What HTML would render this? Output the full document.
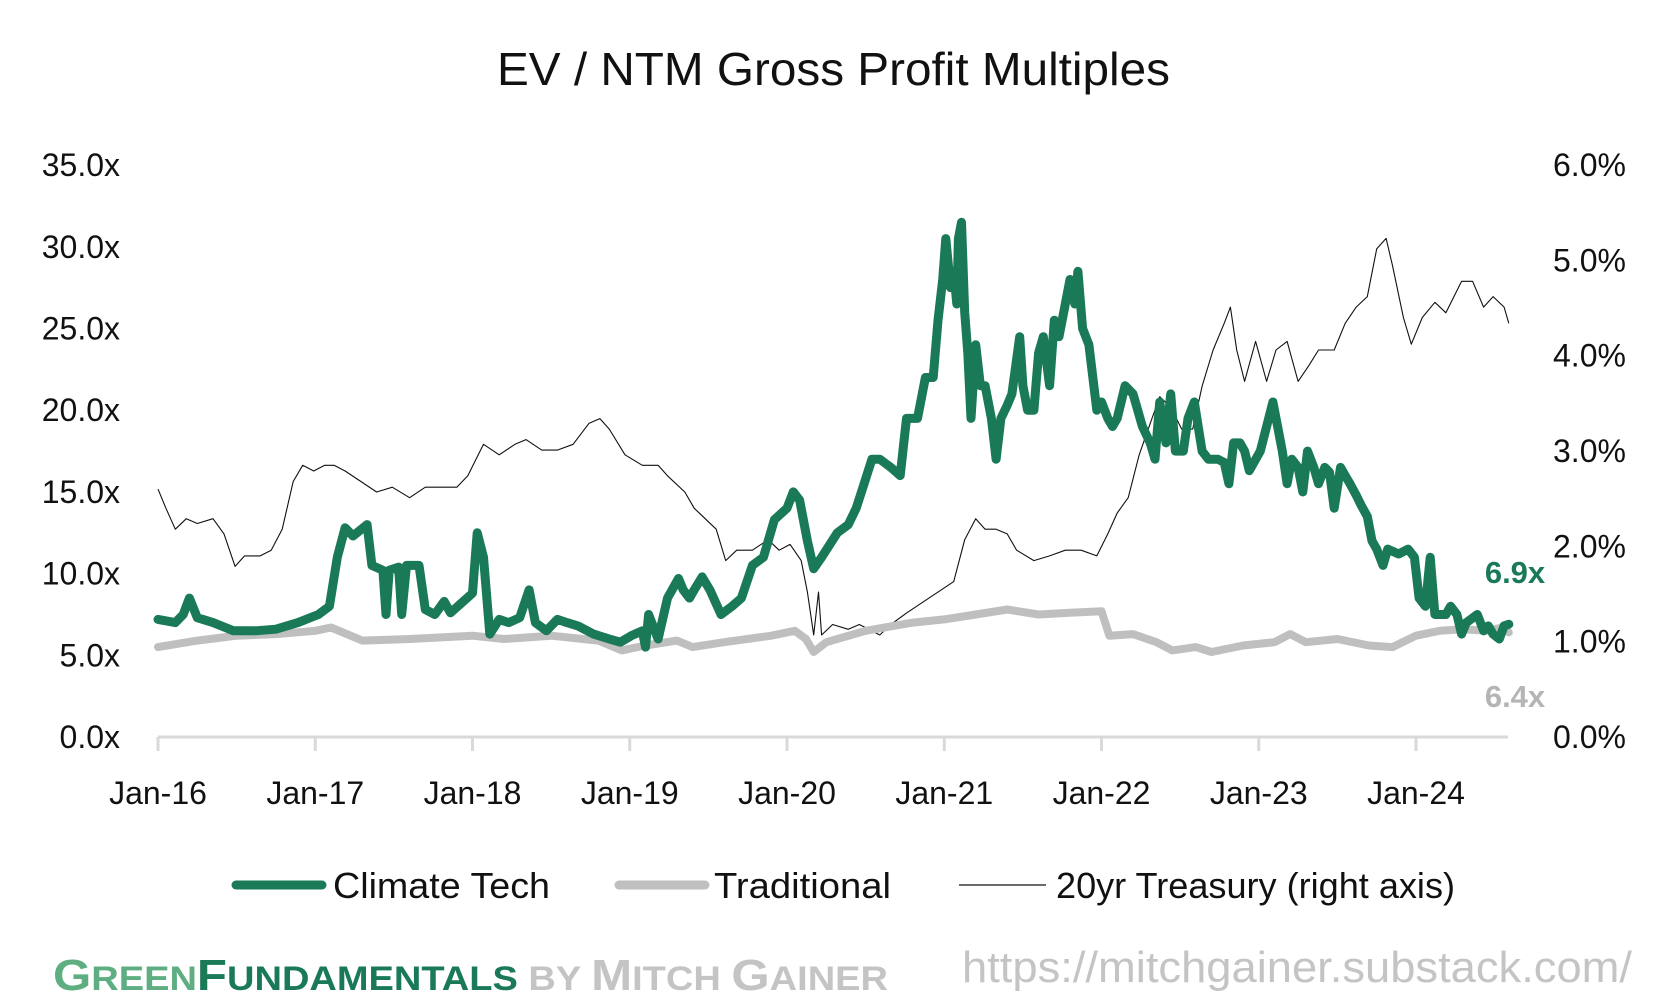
<!DOCTYPE html>
<html><head><meta charset="utf-8"><style>
html,body{margin:0;padding:0;background:#fff;}
svg{display:block;font-family:"Liberation Sans",sans-serif;}
</style></head><body>
<svg id="chart" width="1659" height="1004" viewBox="0 0 1659 1004">
<text x="497" y="85" textLength="673" lengthAdjust="spacingAndGlyphs" font-size="46" fill="#111">EV / NTM Gross Profit Multiples</text>
<g id="axes"></g>
<g id="series"></g>
<text x="1515" y="583" text-anchor="middle" font-size="31" font-weight="bold" fill="#1a7a57">6.9x</text>
<text x="1515" y="707" text-anchor="middle" font-size="31" font-weight="bold" fill="#b5b5b5">6.4x</text>
<g>
<g><line x1="236" y1="885" x2="322" y2="885" stroke="#1a7a57" stroke-width="9" stroke-linecap="round"/><text x="333" y="898" textLength="217" lengthAdjust="spacingAndGlyphs" font-size="36" fill="#111">Climate Tech</text></g>
<g><line x1="619" y1="885" x2="705" y2="885" stroke="#bfbfbf" stroke-width="9" stroke-linecap="round"/><text x="714" y="898" textLength="177" lengthAdjust="spacingAndGlyphs" font-size="36" fill="#111">Traditional</text></g>
<g><line x1="959" y1="885" x2="1046" y2="885" stroke="#111" stroke-width="1.2"/><text x="1056" y="898" textLength="399" lengthAdjust="spacingAndGlyphs" font-size="36" fill="#111">20yr Treasury (right axis)</text></g>
</g>
<text x="53" y="990" textLength="835" lengthAdjust="spacingAndGlyphs" font-size="44" font-weight="bold"><tspan fill="#5fae82">G</tspan><tspan fill="#5fae82" font-size="34">REEN</tspan><tspan fill="#1a7a57">F</tspan><tspan fill="#1a7a57" font-size="34">UNDAMENTALS</tspan><tspan fill="#c4c4c4" font-size="34"> BY </tspan><tspan fill="#c4c4c4">M</tspan><tspan fill="#c4c4c4" font-size="34">ITCH </tspan><tspan fill="#c4c4c4">G</tspan><tspan fill="#c4c4c4" font-size="34">AINER</tspan></text>
<text x="962" y="982" textLength="670" lengthAdjust="spacingAndGlyphs" font-size="44" fill="#c4c4c4">https://mitchgainer.substack.com/</text>
</svg>
<script>
// year offsets since Jan-16 and values
const climateT=[0,0.11,0.16,0.2,0.25,0.35,0.48,0.62,0.75,0.89,1.02,1.09,1.14,1.19,1.24,1.33,1.36,1.43,1.45,1.47,1.53,1.55,1.58,1.66,1.70,1.76,1.82,1.86,1.93,2.0,2.03,2.07,2.11,2.17,2.23,2.30,2.36,2.40,2.47,2.54,2.60,2.67,2.77,2.87,2.94,3.01,3.08,3.10,3.12,3.18,3.24,3.31,3.34,3.38,3.41,3.46,3.51,3.58,3.65,3.71,3.78,3.85,3.92,4.0,4.04,4.08,4.13,4.17,4.22,4.32,4.39,4.44,4.49,4.54,4.59,4.66,4.72,4.76,4.83,4.88,4.93,4.96,4.99,5.01,5.04,5.06,5.08,5.09,5.11,5.13,5.15,5.17,5.20,5.23,5.26,5.30,5.33,5.36,5.40,5.43,5.48,5.50,5.53,5.57,5.60,5.63,5.67,5.70,5.73,5.77,5.80,5.83,5.85,5.88,5.92,5.97,6.0,6.04,6.07,6.10,6.15,6.20,6.26,6.31,6.34,6.37,6.41,6.44,6.47,6.52,6.55,6.59,6.64,6.68,6.74,6.78,6.81,6.84,6.88,6.91,6.94,7.01,7.05,7.09,7.12,7.15,7.18,7.21,7.25,7.28,7.31,7.35,7.38,7.42,7.45,7.48,7.52,7.55,7.58,7.62,7.65,7.69,7.72,7.75,7.79,7.82,7.89,7.95,7.99,8.02,8.06,8.09,8.12,8.19,8.22,8.26,8.29,8.32,8.39,8.43,8.46,8.49,8.53,8.56,8.59];
const climateV=[7.2,7.0,7.5,8.5,7.3,7.0,6.5,6.5,6.6,7.0,7.5,8.0,11.0,12.8,12.3,13.0,10.5,10.2,7.5,10.2,10.4,7.5,10.5,10.5,7.8,7.5,8.3,7.6,8.2,8.8,12.5,11.0,6.3,7.2,7.0,7.3,9.0,7.0,6.5,7.2,7.0,6.8,6.3,6.0,5.8,6.2,6.5,5.5,7.5,6.0,8.5,9.7,9.0,8.5,9.0,9.8,9.0,7.5,8.0,8.5,10.5,11.0,13.3,14.0,15.0,14.5,12.0,10.3,11.0,12.5,13.0,14.0,15.5,17.0,17.0,16.5,16.0,19.5,19.5,22.0,22.0,25.5,28.0,30.5,27.5,28.5,26.5,30.5,31.5,26.0,23.5,19.5,24.0,21.5,21.5,19.5,17.0,19.5,20.3,21.0,24.5,21.5,20.0,20.0,23.5,24.5,21.5,25.5,24.5,26.5,28.0,26.5,28.5,25.0,24.0,20.0,20.5,19.5,19.0,19.5,21.5,21.0,19.0,18.0,17.0,20.5,18.0,21.0,17.5,17.5,19.5,20.5,17.5,17.0,17.0,16.8,15.5,18.0,18.0,17.5,16.3,17.5,19.0,20.5,19.0,17.5,15.5,17.0,16.5,15.0,17.5,16.5,15.5,16.5,16.2,14.0,16.5,16.0,15.5,14.8,14.2,13.5,12.0,11.5,10.5,11.5,11.2,11.5,11.0,8.5,8.0,11.0,7.5,7.5,8.0,7.5,6.3,7.0,7.5,6.5,6.8,6.3,6.0,6.8,6.9];
const tradT=[0,0.25,0.5,0.75,1.0,1.1,1.3,1.6,2.0,2.2,2.5,2.8,2.95,3.1,3.3,3.4,3.6,3.9,4.05,4.12,4.17,4.25,4.5,4.8,5.0,5.2,5.4,5.6,5.8,6.0,6.05,6.2,6.35,6.45,6.6,6.7,6.9,7.1,7.2,7.3,7.5,7.7,7.85,8.0,8.15,8.3,8.45,8.55,8.59];
const tradV=[5.5,5.9,6.2,6.3,6.5,6.7,5.9,6.0,6.2,6.0,6.2,5.9,5.3,5.6,5.9,5.5,5.8,6.2,6.5,6.0,5.2,5.8,6.5,7.0,7.2,7.5,7.8,7.5,7.6,7.7,6.2,6.3,5.8,5.3,5.5,5.2,5.6,5.8,6.3,5.8,6.0,5.6,5.5,6.2,6.5,6.6,6.5,6.7,6.4];
const treasT=[0,0.05,0.08,0.11,0.18,0.25,0.35,0.42,0.49,0.55,0.65,0.72,0.79,0.86,0.92,0.99,1.06,1.12,1.19,1.29,1.39,1.49,1.6,1.7,1.8,1.9,1.97,2.07,2.17,2.27,2.34,2.44,2.54,2.64,2.74,2.81,2.87,2.97,3.08,3.18,3.24,3.35,3.41,3.48,3.55,3.61,3.68,3.78,3.88,3.95,4.02,4.09,4.13,4.17,4.2,4.22,4.29,4.39,4.46,4.52,4.59,4.66,4.76,4.86,4.96,5.06,5.13,5.2,5.26,5.33,5.4,5.46,5.57,5.67,5.77,5.87,5.97,6.04,6.1,6.17,6.24,6.31,6.37,6.44,6.51,6.58,6.64,6.71,6.78,6.82,6.86,6.91,6.98,7.05,7.11,7.18,7.25,7.32,7.38,7.48,7.55,7.62,7.69,7.75,7.81,7.85,7.92,7.97,8.04,8.12,8.19,8.29,8.36,8.43,8.49,8.56,8.59];
const treasV=[2.6,2.4,2.29,2.18,2.29,2.24,2.29,2.13,1.79,1.9,1.9,1.96,2.18,2.68,2.85,2.79,2.85,2.85,2.79,2.68,2.57,2.62,2.51,2.62,2.62,2.62,2.74,3.07,2.96,3.07,3.12,3.01,3.01,3.07,3.29,3.34,3.23,2.96,2.85,2.85,2.74,2.57,2.4,2.29,2.18,1.85,1.96,1.96,2.07,1.96,2.02,1.85,1.52,1.07,1.52,1.07,1.18,1.13,1.18,1.13,1.07,1.18,1.3,1.41,1.52,1.63,2.07,2.29,2.18,2.18,2.13,1.96,1.85,1.9,1.96,1.96,1.9,2.13,2.35,2.51,2.96,3.29,3.57,3.46,3.23,3.23,3.68,4.06,4.34,4.51,4.06,3.73,4.15,3.73,4.06,4.15,3.73,3.9,4.06,4.06,4.34,4.51,4.62,5.12,5.23,4.95,4.4,4.12,4.4,4.56,4.45,4.78,4.78,4.51,4.62,4.51,4.34];
const xTicks=["Jan-16","Jan-17","Jan-18","Jan-19","Jan-20","Jan-21","Jan-22","Jan-23","Jan-24"];
const leftTicks=[0,5,10,15,20,25,30,35];
const rightTicks=[0,1,2,3,4,5,6];

const NS="http://www.w3.org/2000/svg";
const x=t=>158+t*157.25;
const yL=v=>737-v*16.34;
const yR=p=>737-p*95.33;
const axes=document.getElementById('axes'), ser=document.getElementById('series');
function mk(tag,attrs,parent){const e=document.createElementNS(NS,tag);for(const k in attrs)e.setAttribute(k,attrs[k]);parent.appendChild(e);return e;}
const base=mk('line',{x1:158,y1:737,x2:1508,y2:737,stroke:'#d9d9d9','stroke-width':3},axes);


xTicks.forEach((lab,i)=>{
  const tk=mk('line',{x1:x(i),y1:737,x2:x(i),y2:751,stroke:'#d9d9d9','stroke-width':3},axes);
  
  
  const t=mk('text',{x:x(i),y:804,'text-anchor':'middle','font-size':32,fill:'#111'},axes);
  t.textContent=lab;
  
  
});
leftTicks.forEach(v=>{
  const t=mk('text',{x:120,y:yL(v)+11,'text-anchor':'end','font-size':32,fill:'#111'},axes);
  t.textContent=v.toFixed(1)+'x';
  
  
});
rightTicks.forEach(v=>{
  const t=mk('text',{x:1553,y:yR(v)+11,'font-size':32,fill:'#111'},axes);
  t.textContent=v.toFixed(1)+'%';
  
  
});
function path(T,V,f){return T.map((t,i)=>(i?'L':'M')+x(t).toFixed(1)+' '+f(V[i]).toFixed(1)).join(' ');}
const pt=mk('path',{d:path(treasT,treasV,yR),fill:'none',stroke:'#111','stroke-width':1.1,'stroke-linejoin':'round'},ser);


const pg=mk('path',{d:path(tradT,tradV,yL),fill:'none',stroke:'#bfbfbf','stroke-width':8,'stroke-linejoin':'round','stroke-linecap':'round'},ser);


const pc=mk('path',{d:path(climateT,climateV,yL),fill:'none',stroke:'#1a7a57','stroke-width':9,'stroke-linejoin':'round','stroke-linecap':'round'},ser);


</script>
</body></html>
